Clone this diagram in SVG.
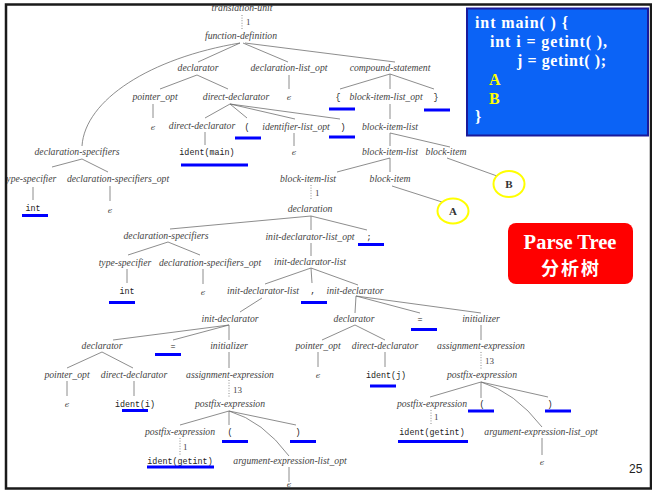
<svg xmlns="http://www.w3.org/2000/svg" width="652" height="490" viewBox="0 0 652 490">
<style>
.t{font-family:"Liberation Serif","DejaVu Serif",serif;font-style:italic;font-size:9.7px;fill:#444;text-anchor:middle}
.m{font-family:"Liberation Mono","DejaVu Sans Mono",monospace;font-size:8.4px;fill:#222;text-anchor:middle}
.n{font-family:"Liberation Serif","DejaVu Serif",serif;font-size:9px;fill:#444}
.e{font-family:"DejaVu Serif","Liberation Serif",serif;font-style:italic;font-size:8px;fill:#444;text-anchor:middle}
.u{fill:#0000ff}
.l line,.l path{stroke:#707070;stroke-width:0.8;fill:none}
.l .d{stroke-dasharray:1 1.6}
.bx{font-family:"Liberation Serif","DejaVu Serif",serif;font-weight:bold;font-size:16px;fill:#fff}
.cir{fill:none;stroke:#ffff00;stroke-width:2}
.ab{font-family:"Liberation Serif","DejaVu Serif",serif;font-weight:bold;font-size:11px;fill:#333;text-anchor:middle}
</style>
<rect x="0" y="0" width="652" height="490" fill="#fff"/>

<g id="connectors" class="l">
<line class="d" x1="242" y1="15" x2="242" y2="29"/>
<line x1="240" y1="43" x2="198" y2="62"/>
<path d="M240 43 C150 58 85 100 82 146"/>
<line x1="243" y1="43" x2="288" y2="62"/>
<line x1="245" y1="43" x2="395" y2="62"/>
<line x1="197" y1="75" x2="160" y2="89"/>
<line x1="197" y1="75" x2="228" y2="89"/>
<line x1="289" y1="75" x2="289" y2="89"/>
<line x1="390" y1="74" x2="340" y2="89"/>
<line x1="390" y1="74" x2="390" y2="89"/>
<line x1="390" y1="74" x2="434" y2="89"/>
<line x1="153" y1="104" x2="153" y2="118"/>
<line x1="230" y1="104" x2="205" y2="118"/>
<line x1="230" y1="104" x2="247" y2="118"/>
<line x1="230" y1="104" x2="295" y2="119"/>
<line x1="230" y1="104" x2="340" y2="119"/>
<line x1="390" y1="104" x2="390" y2="119"/>
<line x1="205" y1="132" x2="205" y2="145"/>
<line x1="294" y1="133" x2="294" y2="146"/>
<line x1="390" y1="133" x2="390" y2="146"/>
<line x1="390" y1="133" x2="450" y2="147"/>
<line x1="82" y1="159" x2="52" y2="167"/>
<line x1="82" y1="159" x2="108" y2="172"/>
<line x1="390" y1="158" x2="337" y2="172"/>
<line x1="390" y1="158" x2="390" y2="172"/>
<line x1="447" y1="158" x2="497" y2="176"/>
<line x1="33" y1="187" x2="33" y2="200"/>
<line x1="110" y1="186" x2="110" y2="201"/>
<line x1="392" y1="186" x2="442" y2="202"/>
<line class="d" x1="311" y1="185" x2="311" y2="199"/>
<line x1="311" y1="216" x2="170" y2="229"/>
<line x1="311" y1="216" x2="311" y2="230"/>
<line x1="311" y1="216" x2="367" y2="230"/>
<line x1="168" y1="242" x2="128" y2="255"/>
<line x1="168" y1="242" x2="200" y2="255"/>
<line x1="311" y1="243" x2="311" y2="256"/>
<line x1="127" y1="269" x2="127" y2="283"/>
<line x1="203" y1="269" x2="203" y2="284"/>
<line x1="311" y1="268" x2="265" y2="284"/>
<line x1="311" y1="268" x2="312" y2="283"/>
<line x1="311" y1="268" x2="358" y2="285"/>
<line x1="262" y1="298" x2="240" y2="312"/>
<line x1="356" y1="296" x2="355" y2="313"/>
<line x1="356" y1="296" x2="420" y2="313"/>
<line x1="356" y1="296" x2="481" y2="313"/>
<line x1="229" y1="325" x2="113" y2="340"/>
<line x1="229" y1="325" x2="173" y2="340"/>
<line x1="229" y1="325" x2="229" y2="340"/>
<line x1="355" y1="325" x2="322" y2="340"/>
<line x1="355" y1="325" x2="385" y2="340"/>
<line x1="481" y1="325" x2="481" y2="340"/>
<line x1="102" y1="352" x2="67" y2="368"/>
<line x1="102" y1="352" x2="133" y2="368"/>
<line x1="229" y1="352" x2="229" y2="368"/>
<line x1="318" y1="352" x2="318" y2="367"/>
<line x1="385" y1="352" x2="385" y2="367"/>
<line class="d" x1="481" y1="352" x2="481" y2="369"/>
<line x1="67" y1="381" x2="67" y2="396"/>
<line x1="134" y1="381" x2="134" y2="396"/>
<line class="d" x1="229" y1="380" x2="229" y2="397"/>
<line x1="481" y1="382" x2="430" y2="397"/>
<line x1="481" y1="382" x2="481" y2="398"/>
<line x1="481" y1="382" x2="548" y2="397"/>
<path d="M481 382 Q515 392 542 427"/>
<line x1="229" y1="411" x2="180" y2="425"/>
<line x1="229" y1="411" x2="229" y2="425"/>
<line x1="229" y1="411" x2="296" y2="425"/>
<path d="M229 411 Q263 421 289 456"/>
<line class="d" x1="431" y1="410" x2="431" y2="424"/>
<line class="d" x1="180" y1="438" x2="180" y2="455"/>
<line x1="542" y1="438" x2="542" y2="455"/>
<line x1="289" y1="467" x2="289" y2="482"/>
</g>

<g id="tree-labels">
<g id="n-translation-unit"><text class="t" x="242" y="11">translation-unit</text></g>
<text class="n" x="246" y="25">1</text>
<g id="n-function-definition"><text class="t" x="241" y="39">function-definition</text></g>
<g id="n-declarator1"><text class="t" x="198" y="71">declarator</text></g>
<g id="n-declaration-list-opt"><text class="t" x="289" y="71">declaration-list_opt</text></g>
<g id="n-compound-statement"><text class="t" x="390" y="71">compound-statement</text></g>
<g id="n-pointer-opt1"><text class="t" x="155" y="100">pointer_opt</text></g>
<g id="n-direct-declarator1"><text class="t" x="236" y="100">direct-declarator</text></g>
<g id="n-eps1"><text class="e" x="289" y="100">ϵ</text></g>
<g id="n-lbrace"><text class="m" x="338" y="100">{</text><rect class="u" x="329" y="107.5" width="26" height="3"/></g>
<g id="n-block-item-list-opt"><text class="t" x="386" y="100">block-item-list_opt</text></g>
<g id="n-rbrace"><text class="m" x="436" y="100">}</text><rect class="u" x="424" y="108.5" width="26" height="3"/></g>
<g id="n-eps2"><text class="e" x="153" y="130">ϵ</text></g>
<g id="n-direct-declarator2"><text class="t" x="202" y="129">direct-declarator</text></g>
<g id="n-lparen1"><text class="m" x="247" y="130">(</text><rect class="u" x="235" y="136.5" width="26" height="3"/></g>
<g id="n-identifier-list-opt"><text class="t" x="296" y="130">identifier-list_opt</text></g>
<g id="n-rparen1"><text class="m" x="343" y="130">)</text><rect class="u" x="329" y="135.5" width="26" height="3"/></g>
<g id="n-block-item-list1"><text class="t" x="390" y="130">block-item-list</text></g>
<g id="n-ident-main"><text class="m" x="207" y="155">ident(main)</text><rect class="u" x="181" y="163.5" width="67" height="3"/></g>
<g id="n-eps3"><text class="e" x="294" y="155">ϵ</text></g>
<g id="n-declaration-specifiers1"><text class="t" x="77" y="155">declaration-specifiers</text></g>
<g id="n-block-item-list2"><text class="t" x="390" y="155">block-item-list</text></g>
<g id="n-block-item1"><text class="t" x="446" y="155">block-item</text></g>
<g id="n-type-specifier1"><text class="t" x="30" y="182">type-specifier</text></g>
<g id="n-declaration-specifiers-opt1"><text class="t" x="118" y="182">declaration-specifiers_opt</text></g>
<g id="n-block-item-list3"><text class="t" x="308" y="182">block-item-list</text></g>
<g id="n-block-item2"><text class="t" x="390" y="182">block-item</text></g>
<g id="n-int1"><text class="m" x="33" y="211">int</text><rect class="u" x="22" y="214" width="26" height="3"/></g>
<g id="n-eps4"><text class="e" x="110" y="213">ϵ</text></g>
<text class="n" x="315" y="196">1</text>
<g id="n-declaration"><text class="t" x="310" y="212">declaration</text></g>
<g id="n-declaration-specifiers2"><text class="t" x="166" y="239">declaration-specifiers</text></g>
<g id="n-init-declarator-list-opt"><text class="t" x="310" y="240">init-declarator-list_opt</text></g>
<g id="n-semicolon"><text class="m" x="369" y="240">;</text><rect class="u" x="358" y="243" width="26" height="3"/></g>
<g id="n-type-specifier2"><text class="t" x="125" y="266">type-specifier</text></g>
<g id="n-declaration-specifiers-opt2"><text class="t" x="210" y="266">declaration-specifiers_opt</text></g>
<g id="n-init-declarator-list1"><text class="t" x="310" y="265">init-declarator-list</text></g>
<g id="n-int2"><text class="m" x="127" y="294">int</text><rect class="u" x="109" y="301" width="26" height="3"/></g>
<g id="n-eps5"><text class="e" x="203" y="295">ϵ</text></g>
<g id="n-init-declarator-list2"><text class="t" x="263" y="294">init-declarator-list</text></g>
<g id="n-comma"><text class="m" x="313" y="293">,</text><rect class="u" x="301" y="301" width="26" height="3"/></g>
<g id="n-init-declarator-j"><text class="t" x="355" y="294">init-declarator</text></g>
<g id="n-init-declarator-i"><text class="t" x="230" y="322">init-declarator</text></g>
<g id="n-declarator-j"><text class="t" x="354" y="322">declarator</text></g>
<g id="n-assign-j"><text class="m" x="420" y="322">=</text><rect class="u" x="411" y="328" width="26" height="3"/></g>
<g id="n-initializer-j"><text class="t" x="481" y="322">initializer</text></g>
<g id="n-declarator-i"><text class="t" x="102" y="349">declarator</text></g>
<g id="n-assign-i"><text class="m" x="173" y="349">=</text><rect class="u" x="155" y="353" width="26" height="3"/></g>
<g id="n-initializer-i"><text class="t" x="229" y="349">initializer</text></g>
<g id="n-pointer-opt-j"><text class="t" x="318" y="349">pointer_opt</text></g>
<g id="n-direct-declarator-j"><text class="t" x="385" y="349">direct-declarator</text></g>
<g id="n-assignment-expression-j"><text class="t" x="481" y="349">assignment-expression</text></g>
<g id="n-pointer-opt-i"><text class="t" x="67" y="378">pointer_opt</text></g>
<g id="n-direct-declarator-i"><text class="t" x="134" y="378">direct-declarator</text></g>
<g id="n-assignment-expression-i"><text class="t" x="230" y="378">assignment-expression</text></g>
<g id="n-eps6"><text class="e" x="318" y="378">ϵ</text></g>
<g id="n-ident-j"><text class="m" x="386" y="378">ident(j)</text><rect class="u" x="370" y="384.5" width="26" height="3"/></g>
<text class="n" x="485" y="364">13</text>
<g id="n-postfix-expression-j1"><text class="t" x="482" y="378">postfix-expression</text></g>
<g id="n-eps7"><text class="e" x="67" y="407">ϵ</text></g>
<g id="n-ident-i"><text class="m" x="135" y="407">ident(i)</text><rect class="u" x="122" y="409" width="26" height="3"/></g>
<text class="n" x="233" y="393">13</text>
<g id="n-postfix-expression-i1"><text class="t" x="230" y="407">postfix-expression</text></g>
<g id="n-postfix-expression-j2"><text class="t" x="432" y="407">postfix-expression</text></g>
<g id="n-lparen-j"><text class="m" x="482" y="407">(</text><rect class="u" x="468" y="409.5" width="26" height="3"/></g>
<g id="n-rparen-j"><text class="m" x="550" y="407">)</text><rect class="u" x="545" y="409.5" width="26" height="3"/></g>
<g id="n-postfix-expression-i2"><text class="t" x="180" y="435">postfix-expression</text></g>
<g id="n-lparen-i"><text class="m" x="230" y="435">(</text><rect class="u" x="222" y="440" width="26" height="3"/></g>
<g id="n-rparen-i"><text class="m" x="298" y="435">)</text><rect class="u" x="290" y="440" width="26" height="3"/></g>
<text class="n" x="434" y="420">1</text>
<g id="n-ident-getint-j"><text class="m" x="432" y="435">ident(getint)</text><rect class="u" x="398" y="440" width="70" height="3"/></g>
<g id="n-arg-list-j"><text class="t" x="541" y="435">argument-expression-list_opt</text></g>
<text class="n" x="183" y="450">1</text>
<g id="n-ident-getint-i"><text class="m" x="180" y="464">ident(getint)</text><rect class="u" x="147" y="465.5" width="67" height="3"/></g>
<g id="n-arg-list-i"><text class="t" x="290" y="464">argument-expression-list_opt</text></g>
<g id="n-eps8"><text class="e" x="542" y="465">ϵ</text></g>
<g id="n-eps9"><text class="e" x="289" y="487">ϵ</text></g>
</g>

<g id="n-A"><ellipse class="cir" cx="453" cy="211" rx="15.5" ry="12.5"/><text class="ab" x="453" y="215">A</text></g>
<g id="n-B"><ellipse class="cir" cx="509" cy="184" rx="15.5" ry="13"/><text class="ab" x="509" y="188">B</text></g>

<g id="code-box">
<rect x="467" y="8.5" width="181" height="127" fill="#0b63f6" stroke="#1a1a9a" stroke-width="2"/>
<text class="bx" x="475" y="28" textLength="93" lengthAdjust="spacing">int main( ) {</text>
<text class="bx" x="490" y="47" textLength="117" lengthAdjust="spacing">int i = getint( ),</text>
<text class="bx" x="517" y="66" textLength="89" lengthAdjust="spacing">j = getint( );</text>
<text class="bx" x="489" y="85" style="fill:#ffff00">A</text>
<text class="bx" x="489" y="104" style="fill:#ffff00">B</text>
<text class="bx" x="475" y="122">}</text>
</g>

<g id="parse-tree-label">
<rect x="508" y="223" width="125" height="61" rx="8" fill="#ff0000"/>
<text x="570" y="249" font-family="'Liberation Serif','DejaVu Serif',serif" font-weight="bold" font-size="20.5" fill="#fff" text-anchor="middle">Parse Tree</text>
<text x="571" y="275" font-family="'Noto Sans CJK SC','Noto Sans CJK JP',sans-serif" font-weight="bold" font-size="18" letter-spacing="2" fill="#fff" text-anchor="middle">分析树</text>
</g>

<text x="629" y="473" font-family="'Liberation Sans',Arial,sans-serif" font-size="12" fill="#222">25</text>

<g id="frame">
<rect x="0" y="0" width="652" height="4" fill="#fff"/>
<rect x="0" y="0" width="5" height="490" fill="#fff"/>
<rect x="6" y="4.5" width="645" height="484" fill="none" stroke="#1a1a1a" stroke-width="2.5"/>
</g>
</svg>
